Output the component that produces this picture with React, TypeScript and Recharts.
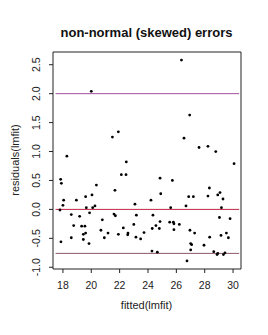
import React from 'react';
import { ScatterChart, Scatter, XAxis, YAxis, ReferenceLine, ReferenceArea } from 'recharts';

// fitted values and residuals
const fittedValues = [
  20.0, 26.36, 26.94,
  17.84, 17.89, 17.79, 18.0, 18.05, 18.28, 18.59, 18.76, 18.95, 19.18, 19.32, 19.55,
  19.6, 19.65, 19.88, 20.05, 20.1, 20.26, 20.36, 20.78, 21.49, 21.67, 21.6, 21.7,
  21.91, 22.12, 22.45, 22.47, 22.26, 23.0, 23.08, 23.18, 24.21, 24.35, 24.3, 24.56,
  24.8, 24.85, 24.9, 24.85, 25.6, 25.72, 25.53, 25.79, 25.83, 26.21, 26.54, 26.68,
  26.87, 27.2, 27.6, 28.23, 28.23, 28.33, 28.78, 28.92, 29.08, 29.29, 29.18, 29.04,
  29.79, 30.07,
  17.86, 18.59, 19.44, 19.6, 19.44, 19.84, 20.68, 20.92, 21.18, 21.91, 22.59, 22.57,
  23.15, 23.48, 23.72, 24.28, 24.66, 25.83, 26.75, 26.96, 27.01, 27.08, 27.01, 27.29,
  27.95, 28.35, 28.64, 28.87, 28.92, 29.15, 29.32, 29.43, 29.53, 29.67,
];
const residualValues = [
  2.04, 2.58, 1.63,
  0.52, 0.45, -0.01, 0.07, 0.16, 0.92, -0.09, -0.28, 0.16, -0.12, -0.29, -0.29,
  0.22, 0.03, -0.06, 0.25, 0.03, 0.06, 0.42, -0.18, 1.25, 0.33, -0.08, -0.11,
  1.34, 0.6, 0.6, 0.82, -0.32, -0.26, 0.09, -0.1, 0.16, -0.1, -0.33, -0.28,
  -0.33, 0.54, 0.27, -0.21, 0.03, 0.5, -0.22, -0.22, -0.25, -0.26, 1.23, 0.06,
  0.22, 0.22, 1.07, 1.09, 0.23, 0.37, 1.0, 0.25, 0.29, 0.18, 0.03, -0.14,
  -0.16, 0.79,
  -0.56, -0.49, -0.43, -0.41, -0.52, -0.59, -0.36, -0.49, -0.41, -0.43, -0.41, -0.44,
  -0.48, -0.51, -0.4, -0.72, -0.74, -0.35, -0.89, -0.36, -0.59, -0.61, -0.7, -0.41,
  -0.62, -0.48, -0.73, -0.78, -0.76, -0.45, -0.78, -0.75, -0.41, -0.49,
];
const xTicks = [18, 20, 22, 24, 26, 28, 30];
const yTicks = [-1, -0.5, 0, 0.5, 1, 1.5, 2, 2.5];
const refLevels = [2, 0, -0.76];
const refColors = ['#a0509c', '#c02848', '#8c5868'];

const xDomain = [17.3, 30.56];
const yDomain = [-1.03, 2.72];

const points = fittedValues.map((x, i) => ({ x, y: residualValues[i] }));

const FONT = '"Liberation Sans", Arial, sans-serif';

const Dot = (props: any) => <circle cx={props.cx} cy={props.cy} r={1.4} fill="#000" />;

const YTick = ({ y, payload }: any) => (
  <text x={36} y={y} transform={`rotate(-90 36 ${y})`} textAnchor="middle" dy="0.35em"
    fontSize={10.5} fill="#222" fontFamily={FONT}>
    {payload.value.toFixed(1)}
  </text>
);

export default function App() {
  return (
    <div style={{ position: 'relative', width: 268, height: 335, background: '#fff', fontFamily: FONT }}>
      <style>{'body{margin:0}'}</style>
      <div style={{ position: 'absolute', left: 0, width: 293, top: 25, textAlign: 'center', fontWeight: 'bold', fontSize: 13, color: '#111' }}>
        non-normal (skewed) errors
      </div>
      <div style={{ position: 'absolute', left: 15, top: 160, transform: 'translate(-50%,-50%) rotate(-90deg)', whiteSpace: 'nowrap', fontSize: 11, color: '#222' }}>
        residuals(lmfit)
      </div>
      <div style={{ position: 'absolute', left: 0, width: 293, top: 299, textAlign: 'center', fontSize: 11, color: '#222' }}>
        fitted(lmfit)
      </div>
      <ScatterChart width={268} height={335} margin={{ top: 52, right: 27, left: 0, bottom: 0 }}>
        <XAxis type="number" dataKey="x" domain={xDomain} ticks={xTicks} allowDataOverflow
          height={66} tickSize={4} tickMargin={9} axisLine={false}
          tickLine={{ stroke: '#222' }} tick={{ fontSize: 10.5, fill: '#222', fontFamily: FONT }} />
        <YAxis type="number" dataKey="y" domain={yDomain} ticks={yTicks} allowDataOverflow
          width={53} tickSize={4} axisLine={false} tickLine={{ stroke: '#222' }} tick={<YTick />} />
        <ReferenceArea x1={xDomain[0]} x2={xDomain[1]} y1={yDomain[0]} y2={yDomain[1]}
          fill="none" stroke="#222" strokeWidth={1} fillOpacity={0} />
        {refLevels.map((lv, i) => (
          <ReferenceLine key={lv} segment={[{ x: 17.48, y: lv }, { x: 30.43, y: lv }]}
            stroke={refColors[i]} strokeWidth={1} />
        ))}
        <Scatter data={points} shape={<Dot />} isAnimationActive={false} />
      </ScatterChart>
    </div>
  );
}
